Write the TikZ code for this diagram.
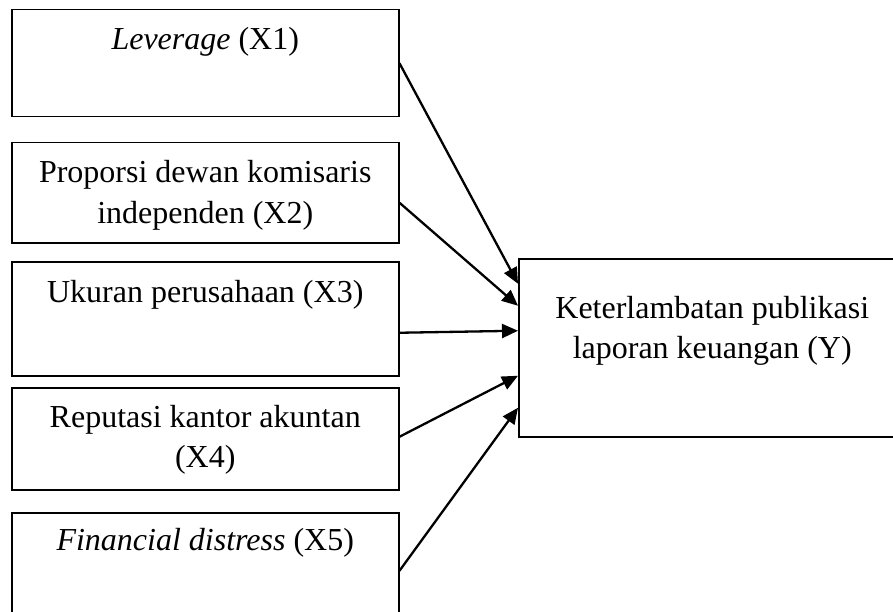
\documentclass[tikz,border=0pt]{standalone}
\usepackage{fontspec}
\setmainfont{Liberation Serif}
\usetikzlibrary{arrows.meta}
\tikzset{
  varbox/.style={draw, line width=1.5pt, anchor=north west, inner sep=0pt,
    minimum width=387pt},
  vartext/.style={anchor=base, inner sep=0pt,
    font=\fontsize{32}{40}\selectfont},
  link/.style={line width=2.3pt, -{Triangle[length=16pt,width=14pt]}}
}
\newcommand{\twolines}[2]{\begin{tabular}[t]{@{}c@{}}#1\\#2\end{tabular}}
\begin{document}
\begin{tikzpicture}[x=1pt,y=-1pt]
\useasboundingbox (0,0) rectangle (893,612);
\clip (0,0) rectangle (893,612);
% boxes
\node[varbox, minimum height=107pt] (b1) at (11,9) {};
\node[varbox, minimum height=100pt] (b2) at (11,142) {};
\node[varbox, minimum height=114pt] (b3) at (11,261) {};
\node[varbox, minimum height=102pt] (b4) at (11,387) {};
\node[varbox, minimum height=116pt] (b5) at (11,512) {};
\node[varbox, minimum height=178pt] (y) at (518,258) {};
% texts
\node[vartext] (t1) at ([yshift=-41pt]b1.north) {\textit{Leverage} (X1)};
\node[vartext] (t2) at ([yshift=-41pt]b2.north) {\twolines{Proporsi dewan komisaris}{independen (X2)}};
\node[vartext] (t3) at ([yshift=-41pt]b3.north) {Ukuran perusahaan (X3)};
\node[vartext] (t4) at ([yshift=-40pt]b4.north) {\twolines{Reputasi kantor akuntan}{(X4)}};
\node[vartext] (t5) at ([yshift=-38pt]b5.north) {\textit{Financial distress} (X5)};
\node[vartext] (ty) at ([yshift=-60pt]y.north) {\twolines{Keterlambatan publikasi}{laporan keuangan (Y)}};
% connectors
\draw[link] (b1.east) -- ([yshift=64pt]y.west);
\draw[link] ([yshift=-10pt]b2.east) -- ([yshift=42pt]y.west);
\draw[link] ([yshift=-14pt]b3.east) -- ([yshift=17pt]y.west);
\draw[link] ([yshift=2pt]b4.east) -- ([yshift=-28pt]y.west);
\draw[link] (b5.east) -- ([yshift=-60pt]y.west);
\end{tikzpicture}
\end{document}
